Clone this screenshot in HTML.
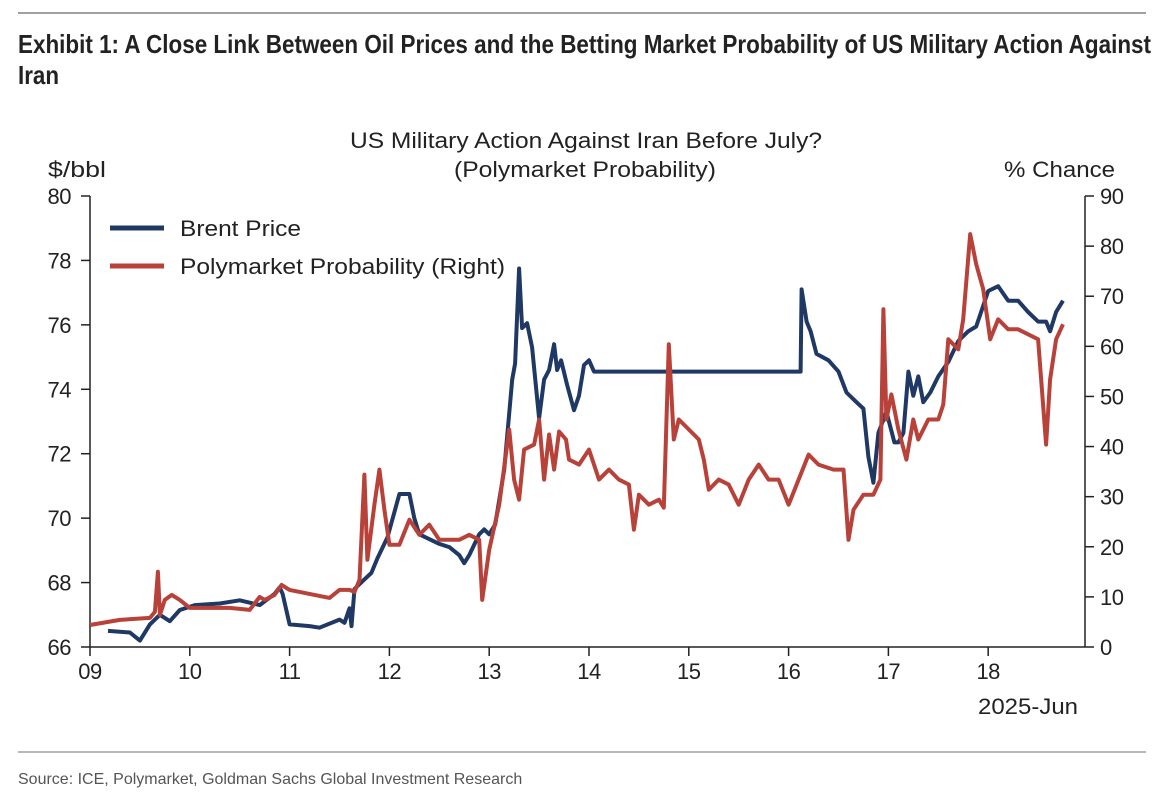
<!DOCTYPE html>
<html><head><meta charset="utf-8"><style>
html,body{margin:0;padding:0;background:#fff;}
svg{display:block;font-family:"Liberation Sans",Arial,sans-serif;}
</style></head><body>
<svg id="chart" width="1163" height="796" viewBox="0 0 1163 796" xmlns="http://www.w3.org/2000/svg">
<line x1="18" y1="13" x2="1146" y2="13" stroke="#a0a0a0" stroke-width="2"/>
<text x="18" y="53" font-size="26" font-weight="bold" fill="#222" textLength="1133" lengthAdjust="spacingAndGlyphs">Exhibit 1: A Close Link Between Oil Prices and the Betting Market Probability of US Military Action Against</text>
<text x="18" y="84" font-size="26" font-weight="bold" fill="#222" textLength="41" lengthAdjust="spacingAndGlyphs">Iran</text>
<text x="350" y="148" font-size="22" fill="#222" textLength="472" lengthAdjust="spacingAndGlyphs">US Military Action Against Iran Before July?</text>
<text x="454" y="177" font-size="22" fill="#222" textLength="262" lengthAdjust="spacingAndGlyphs">(Polymarket Probability)</text>
<text x="48" y="177" font-size="22" fill="#222" textLength="58" lengthAdjust="spacingAndGlyphs">$/bbl</text>
<text x="1004" y="177" font-size="22" fill="#222" textLength="111" lengthAdjust="spacingAndGlyphs">% Chance</text>
<text x="978" y="714" font-size="22" fill="#222" textLength="100" lengthAdjust="spacingAndGlyphs">2025-Jun</text>
<g id="axes"></g>
<g id="series"></g>
<g>
<line x1="110" y1="228" x2="164" y2="228" stroke="#1f3864" stroke-width="5"/>
<text x="180" y="236" font-size="22" fill="#222" textLength="121" lengthAdjust="spacingAndGlyphs">Brent Price</text>
<line x1="110" y1="266" x2="164" y2="266" stroke="#b8413a" stroke-width="5"/>
<text x="180" y="274" font-size="22" fill="#222" textLength="325" lengthAdjust="spacingAndGlyphs">Polymarket Probability (Right)</text>
</g>
<line x1="18" y1="752" x2="1146" y2="752" stroke="#a0a0a0" stroke-width="1.5"/>
<text x="18" y="784" font-size="16" fill="#555">Source: ICE, Polymarket, Goldman Sachs Global Investment Research</text>
</svg>
<script>
const xTicks = [9,10,11,12,13,14,15,16,17,18];
const xTickLabels = ["09","10","11","12","13","14","15","16","17","18"];
const leftTicks = [66,68,70,72,74,76,78,80];
const rightTicks = [0,10,20,30,40,50,60,70,80,90];
const brentDays = [9.18,9.40,9.50,9.60,9.70,9.80,9.90,10.05,10.30,10.50,10.70,10.85,10.90,10.93,11.00,11.20,11.30,11.50,11.55,11.60,11.62,11.65,11.75,11.82,11.88,11.98,12.10,12.20,12.25,12.30,12.50,12.60,12.70,12.75,12.80,12.90,12.95,13.00,13.06,13.15,13.23,13.26,13.30,13.33,13.38,13.43,13.50,13.55,13.60,13.65,13.68,13.72,13.78,13.85,13.90,13.95,14.00,14.05,16.12,16.13,16.18,16.22,16.28,16.40,16.50,16.58,16.68,16.75,16.80,16.85,16.90,16.98,17.06,17.10,17.15,17.20,17.25,17.30,17.35,17.42,17.50,17.60,17.70,17.80,17.88,18.00,18.10,18.20,18.30,18.40,18.50,18.58,18.62,18.68,18.75];
const brentPrice = [66.5,66.45,66.2,66.7,67.0,66.8,67.15,67.3,67.35,67.45,67.3,67.65,67.85,67.65,66.7,66.65,66.6,66.85,66.75,67.2,66.65,67.8,68.1,68.3,68.75,69.4,70.75,70.75,70.0,69.5,69.2,69.1,68.85,68.6,68.85,69.5,69.65,69.5,69.8,71.5,74.3,74.8,77.75,75.9,76.05,75.3,73.1,74.3,74.6,75.4,74.6,74.9,74.15,73.35,73.8,74.75,74.9,74.55,74.55,77.1,76.1,75.8,75.1,74.9,74.55,73.9,73.6,73.4,71.9,71.1,72.65,73.3,72.35,72.35,72.65,74.55,73.8,74.4,73.6,73.9,74.4,74.85,75.5,75.8,75.95,77.05,77.2,76.75,76.75,76.4,76.1,76.1,75.8,76.4,76.75];
const polyDays = [9.00,9.30,9.60,9.65,9.68,9.70,9.75,9.82,9.90,10.00,10.20,10.40,10.60,10.70,10.75,10.85,10.92,11.00,11.40,11.50,11.60,11.65,11.70,11.75,11.78,11.85,11.90,11.95,12.00,12.10,12.20,12.30,12.40,12.50,12.60,12.70,12.80,12.90,12.93,13.00,13.10,13.20,13.25,13.30,13.35,13.45,13.50,13.55,13.60,13.65,13.70,13.77,13.80,13.90,14.00,14.10,14.20,14.30,14.40,14.45,14.50,14.60,14.70,14.75,14.80,14.85,14.90,15.00,15.10,15.15,15.20,15.30,15.40,15.50,15.60,15.70,15.80,15.90,16.00,16.10,16.20,16.30,16.45,16.55,16.60,16.65,16.75,16.85,16.92,16.95,16.98,17.03,17.10,17.18,17.25,17.30,17.40,17.50,17.55,17.60,17.70,17.75,17.82,17.88,17.95,18.02,18.10,18.20,18.30,18.40,18.50,18.58,18.62,18.68,18.75];
const polyProb = [4.4,5.4,5.8,7.0,15.0,6.4,9.4,10.4,9.4,7.8,7.8,7.8,7.4,10.0,9.4,10.4,12.4,11.4,9.8,11.4,11.4,11.0,13.4,34.4,17.4,28.4,35.4,27.4,20.4,20.4,25.4,22.4,24.4,21.4,21.4,21.4,22.4,21.4,9.4,19.4,28.4,43.4,33.4,29.4,39.4,40.4,45.4,33.4,42.4,35.4,43.0,41.4,37.4,36.4,39.4,33.4,35.4,33.4,32.4,23.4,30.4,28.4,29.4,27.8,60.4,41.4,45.4,43.4,41.4,37.4,31.4,33.4,32.4,28.4,33.4,36.4,33.4,33.4,28.4,33.4,38.4,36.4,35.4,35.4,21.4,27.4,30.4,30.4,33.4,67.4,45.4,50.4,43.4,37.4,45.4,41.4,45.4,45.4,48.4,61.4,59.4,65.4,82.4,76.4,71.4,61.4,65.4,63.4,63.4,62.4,61.4,40.4,53.4,61.4,64.4];

const NS = "http://www.w3.org/2000/svg";
const X0 = 90, X1 = 1085, Y0 = 647, Y1 = 196;
function xs(d){ return X0 + (d - 9) * (X1 - X0) / 9.97; }
function yl(v){ return Y0 - (v - 66) * (Y0 - Y1) / 14; }
function yr(v){ return Y0 - v * (Y0 - Y1) / 90; }
function mk(tag, attrs, parent){ const e = document.createElementNS(NS, tag); for (const k in attrs) e.setAttribute(k, attrs[k]); parent.appendChild(e); return e; }

const axes = document.getElementById('axes');
let e;
e = mk('line', {x1:X0, y1:Y1, x2:X0, y2:Y0, stroke:'#222', 'stroke-width':1.5}, axes);


e = mk('line', {x1:X1, y1:Y1, x2:X1, y2:Y0, stroke:'#222', 'stroke-width':1.5}, axes);


e = mk('line', {x1:X0, y1:Y0, x2:X1, y2:Y0, stroke:'#222', 'stroke-width':1.5}, axes);


leftTicks.forEach(v => {
  const y = yl(v);
  let t = mk('line', {x1:X0-9, y1:y, x2:X0, y2:y, stroke:'#222', 'stroke-width':1.5}, axes);
  
  
  let l = mk('text', {x:71, y:y+8, 'font-size':22, 'text-anchor':'end', fill:'#222', 'letter-spacing':'-0.5'}, axes);
  l.textContent = v;
  
  
});
rightTicks.forEach(v => {
  const y = yr(v);
  let t = mk('line', {x1:X1, y1:y, x2:X1+9, y2:y, stroke:'#222', 'stroke-width':1.5}, axes);
  
  
  let l = mk('text', {x:1100, y:y+8, 'font-size':22, fill:'#222', 'letter-spacing':'-0.5'}, axes);
  l.textContent = v;
  
  
});
xTicks.forEach((d, i) => {
  const x = xs(d);
  let t = mk('line', {x1:x, y1:Y0, x2:x, y2:Y0+9, stroke:'#222', 'stroke-width':1.5}, axes);
  
  
  let l = mk('text', {x:x, y:Y0+32, 'font-size':22, 'text-anchor':'middle', fill:'#222', 'letter-spacing':'-0.5'}, axes);
  l.textContent = xTickLabels[i];
  
  
});

const series = document.getElementById('series');
function linePath(days, vals, yf){
  return days.map((dd, i) => (i ? 'L' : 'M') + xs(dd).toFixed(1) + ' ' + yf(vals[i]).toFixed(1)).join(' ');
}
let p1 = mk('path', {d: linePath(brentDays, brentPrice, yl), fill:'none', stroke:'#1f3864', 'stroke-width':4, 'stroke-linejoin':'round'}, series);


let p2 = mk('path', {d: linePath(polyDays, polyProb, yr), fill:'none', stroke:'#b8413a', 'stroke-width':4, 'stroke-linejoin':'round'}, series);


</script>
</body></html>
